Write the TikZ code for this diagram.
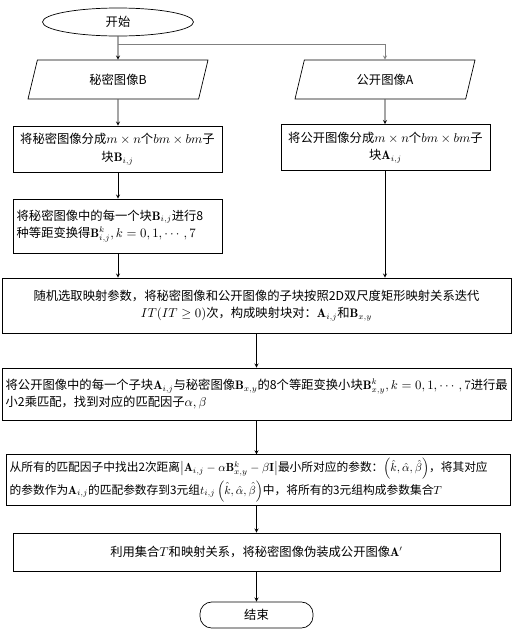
\documentclass[tikz,border=0pt]{standalone}
\usepackage{fontspec}
\usepackage{amsmath}
\newfontfamily\cjk{Noto Sans CJK SC}
\usetikzlibrary{shapes.geometric}

\begin{document}
\begin{tikzpicture}[x=0.03cm, y=-0.03cm,
	>=stealth,
	every path/.style={line width=0.6pt},
	every node/.style={font=\cjk\fontsize{10.5}{15}\selectfont},
	box/.style={rectangle, draw=black, inner sep=3pt},
	io/.style={trapezium, trapezium left angle=64, trapezium right angle=116,
				trapezium stretches body, draw=black, minimum width=5.4cm,
				minimum height=1.17cm},
	term/.style={draw=black, inner sep=0}]
	\useasboundingbox (0,0) rectangle (512,640);

	\node[term, ellipse, minimum width=4.53cm, minimum height=0.84cm] (start) at (118,22) {开始};
	\node[io] (secB) at (118,79.5) {秘密图像B};
	\node[io] (pubA) at (385,79.5) {公开图像A};
	\node[box, minimum width=6.27cm, minimum height=1.38cm, align=center]
		(divB) at (117.5,149) {将秘密图像分成$m\times n$个$bm\times bm$子\\块$\mathbf{B}_{i,j}$};
	\node[box, minimum width=6.27cm, minimum height=1.38cm, align=center]
		(divA) at (385.5,147.5) {将公开图像分成$m\times n$个$bm\times bm$子\\块$\mathbf{A}_{i,j}$};
	\node[box, minimum width=6.27cm, minimum height=1.62cm, text width=6.05cm, align=flush left]
		(transB) at (117.5,226) {\hbox{将秘密图像中的每一个块$\mathbf{B}_{i,j}$进行8}\\\hbox{种等距变换得$\mathbf{B}^k_{i,j},k=0,1,\cdots,7$}};
	\node[box, minimum width=15.27cm, minimum height=1.65cm, align=center]
		(map) at (256.5,305.5) {随机选取映射参数，将秘密图像和公开图像的子块按照2D双尺度矩形映射关系迭代\\$IT(IT\geq 0)$次，构成映射块对：$\mathbf{A}_{i,j}$和$\mathbf{B}_{x,y}$};
	\node[box, minimum width=15.27cm, minimum height=1.56cm, text width=15.05cm, align=flush left]
		(match) at (256.5,394) {\hbox{将公开图像中的每一个子块$\mathbf{A}_{i,j}$与秘密图像$\mathbf{B}_{x,y}$的8个等距变换小块$\mathbf{B}^k_{x,y},k=0,1,\cdots,7$进行最}\\\hbox{小2乘匹配，找到对应的匹配因子$\alpha,\beta$}};
	\node[box, minimum width=15.12cm, minimum height=1.5cm, text width=14.9cm, align=flush left,
		font=\cjk\fontsize{10}{15}\selectfont]
		(select) at (258,480) {\hbox{从所有的匹配因子中找出2次距离$\left|\mathbf{A}_{i,j}-\alpha\mathbf{B}^k_{x,y}-\beta\mathbf{I}\right|$最小所对应的参数：$\left(\hat{k},\hat{\alpha},\hat{\beta}\right)$，将其对应}\\\hbox{的参数作为$\mathbf{A}_{i,j}$的匹配参数存到3元组$t_{i,j}\left(\hat{k},\hat{\alpha},\hat{\beta}\right)$中，将所有的3元组构成参数集合$T$}};
	\node[box, minimum width=14.61cm, minimum height=1.14cm, align=center]
		(disg) at (256.5,552) {利用集合$T$和映射关系，将秘密图像伪装成公开图像$\mathbf{A}'$};
	\node[term, rectangle, rounded corners=0.35cm, minimum width=3.39cm, minimum height=0.78cm]
		(end) at (256.5,615) {结束};

	\coordinate (br) at (118,44);
	\draw[->] (start) -- (secB);
	\draw[->, gray] (br) -| (pubA.north);
	\draw[->] (secB) -- (secB.south |- divB.north);
	\draw[->] (pubA) -- (pubA.south |- divA.north);
	\draw[->] (divB.south -| secB.south) -- (secB.south |- transB.north);
	\draw[->] (transB.south -| secB.south) -- (secB.south |- map.north);
	\draw[->] (divA.south -| pubA.south) -- (pubA.south |- map.north);
	\draw[->] (map.south -| end.north) -- (end.north |- match.north);
	\draw[->] (match.south -| end.north) -- (end.north |- select.north);
	\draw[->] (select.south -| end.north) -- (end.north |- disg.north);
	\draw[->] (disg.south -| end.north) -- (end);
\end{tikzpicture}
\end{document}
